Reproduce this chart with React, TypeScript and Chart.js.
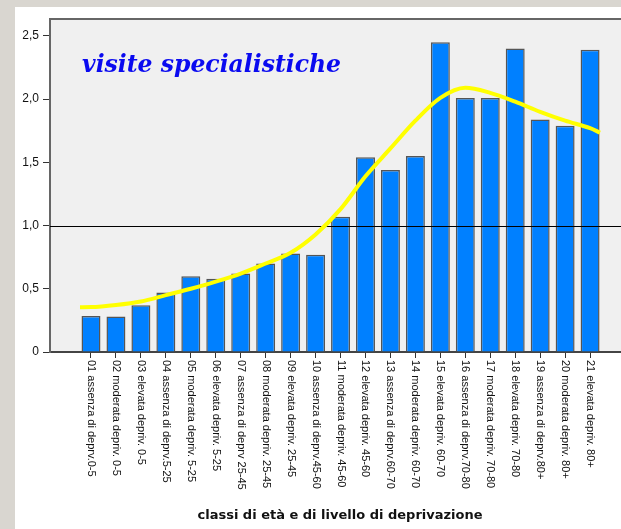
import React, { useEffect, useRef } from 'react';
import { Chart, registerables } from 'chart.js';

Chart.register(...registerables);

const categories = [
  '01 assenza di deprv.0-5',
  '02 moderata depriv. 0-5',
  '03 elevata depriv. 0-5',
  '04 assenza di deprv.5-25',
  '05 moderata depriv. 5-25',
  '06 elevata depriv. 5-25',
  '07 assenza di deprv 25-45',
  '08 moderata depriv. 25-45',
  '09 elevata depriv. 25-45',
  '10 assenza di deprv.45-60',
  '11 moderata depriv. 45-60',
  '12 elevata depriv. 45-60',
  '13 assenza di deprv.60-70',
  '14 moderata depriv. 60-70',
  '15 elevata depriv. 60-70',
  '16 assenza di deprv.70-80',
  '17 moderata depriv. 70-80',
  '18 elevata depriv. 70-80',
  '19 assenza di deprv.80+',
  '20 moderata depriv. 80+',
  '21 elevata depriv. 80+',
];

const barValues = [
  0.285, 0.28, 0.37, 0.47, 0.6, 0.58, 0.62, 0.7, 0.78, 0.77, 1.07,
  1.54, 1.44, 1.55, 2.45, 2.01, 2.01, 2.4, 1.84, 1.79, 2.39,
];

// fitted trend curve (position in category units, value)
const curveX = [0.56, 1, 2, 3, 4, 5, 6, 7, 8, 9, 10, 11, 12, 13, 14, 15, 16, 17, 18, 19, 20, 21, 21.4];
const curveY = [
  0.354, 0.355, 0.372, 0.4, 0.45, 0.5, 0.556, 0.62, 0.7, 0.785, 0.93, 1.13,
  1.39, 1.61, 1.83, 2.01, 2.09, 2.05, 1.98, 1.9, 1.83, 1.77, 1.735,
];

const yTickValues = [0, 0.5, 1, 1.5, 2, 2.5];
const yTickLabels = ['0', '0,5', '1,0', '1,5', '2,0', '2,5'];
const yMax = 2.634;
const xMin = -0.643;
const xMax = 22.6;
const referenceValue = 1;

const chartTitle = 'visite specialistiche';
const xAxisTitle = 'classi di età e di livello di deprivazione';

const decorPlugin = {
  id: 'decor',
  beforeDraw(chart: any) {
    const { ctx, chartArea } = chart;
    ctx.save();
    ctx.fillStyle = '#f0f0f0';
    ctx.fillRect(chartArea.left, chartArea.top, chartArea.right - chartArea.left, chartArea.bottom - chartArea.top);
    ctx.restore();
  },
  afterDatasetDraw(chart: any, args: any) {
    if (args.index !== 0) return;
    const { ctx, chartArea, scales } = chart;
    const y = Math.round(scales.y.getPixelForValue(referenceValue)) + 0.5;
    ctx.save();
    ctx.strokeStyle = '#000000';
    ctx.lineWidth = 1;
    ctx.beginPath();
    ctx.moveTo(chartArea.left, y);
    ctx.lineTo(chartArea.right, y);
    ctx.stroke();
    ctx.restore();
  },
  afterDraw(chart: any) {
    const { ctx, chartArea, scales } = chart;
    ctx.save();
    // top border
    ctx.strokeStyle = '#666666';
    ctx.lineWidth = 2;
    ctx.beginPath();
    ctx.moveTo(chartArea.left - 1, chartArea.top);
    ctx.lineTo(chartArea.right, chartArea.top);
    ctx.stroke();

    // chart title inside plot
    ctx.fillStyle = '#0a0af0';
    ctx.font = "italic bold 23.5px 'DejaVu Serif'";
    ctx.textAlign = 'left';
    ctx.textBaseline = 'alphabetic';
    ctx.fillText(chartTitle, chartArea.left + 32, chartArea.top + 53);

    // rotated category labels
    const xs = scales.x;
    ctx.fillStyle = '#111111';
    ctx.font = "11px 'Liberation Sans'";
    ctx.textAlign = 'left';
    ctx.textBaseline = 'middle';
    categories.forEach((label, i) => {
      const px = xs.getPixelForValue(i + 1);
      ctx.save();
      ctx.translate(px, xs.top + 8);
      ctx.rotate(Math.PI / 2);
      ctx.fillText(label, 0, 0);
      ctx.restore();
    });
    ctx.restore();
  },
};

export default function App() {
  const canvasRef = useRef<HTMLCanvasElement | null>(null);

  useEffect(() => {
    const canvas = canvasRef.current;
    if (!canvas) return;
    const chart = new Chart(canvas, {
      type: 'bar',
      data: {
        datasets: [
          {
            type: 'bar',
            label: 'visite',
            data: barValues.map((v, i) => ({ x: i + 1, y: v })),
            backgroundColor: '#0080ff',
            borderColor: '#555555',
            borderWidth: 1.5,
            barPercentage: 0.76,
            categoryPercentage: 1,
            order: 1,
          } as any,
          {
            type: 'line',
            label: 'trend',
            data: curveX.map((x, i) => ({ x, y: curveY[i] })),
            borderColor: '#ffff00',
            borderWidth: 4,
            pointRadius: 0,
            fill: false,
            cubicInterpolationMode: 'monotone',
            order: 0,
          } as any,
        ],
      },
      options: {
        animation: false,
        responsive: false,
        devicePixelRatio: 1,
        layout: { padding: { top: 12, right: 0, left: 0, bottom: 0 } },
        plugins: {
          legend: { display: false },
          tooltip: { enabled: false },
          title: { display: false },
        },
        scales: {
          x: {
            type: 'linear',
            min: xMin,
            max: xMax,
            offset: false,
            afterBuildTicks: (scale: any) => {
              scale.ticks = categories.map((_, i) => ({ value: i + 1 }));
            },
            afterFit: (scale: any) => {
              scale.height = 177;
            },
            ticks: { display: false },
            grid: {
              offset: false,
              drawOnChartArea: false,
              drawTicks: true,
              tickLength: 6,
              tickColor: '#333333',
              tickWidth: 1,
            },
            border: { display: true, color: '#444444', width: 2 },
            title: {
              display: true,
              text: xAxisTitle,
              color: '#111111',
              font: { family: "'DejaVu Sans'", size: 13, weight: 'bold' },
              padding: { top: 0, bottom: 6 },
            },
          },
          y: {
            type: 'linear',
            min: 0,
            max: yMax,
            afterBuildTicks: (scale: any) => {
              scale.ticks = yTickValues.map((v) => ({ value: v }));
            },
            afterFit: (scale: any) => {
              scale.width = 35;
            },
            ticks: {
              padding: 4,
              color: '#111111',
              font: { family: "'Liberation Sans'", size: 12 },
              callback: (v: any) => {
                const idx = yTickValues.indexOf(Number(v));
                return idx >= 0 ? yTickLabels[idx] : '';
              },
            },
            grid: {
              drawOnChartArea: false,
              drawTicks: true,
              tickLength: 7,
              tickColor: '#333333',
              tickWidth: 1,
            },
            border: { display: true, color: '#666666', width: 2 },
          },
        },
      } as any,
      plugins: [decorPlugin],
    });
    return () => chart.destroy();
  }, []);

  return (
    <div
      style={{
        position: 'fixed',
        left: 0,
        top: 0,
        width: '100vw',
        height: '100vh',
        overflow: 'hidden',
        background: '#d9d6d0',
      }}
    >
      <div
        style={{
          position: 'absolute',
          left: 15,
          top: 7,
          width: 615,
          height: 522,
          background: '#ffffff',
        }}
      >
        <canvas ref={canvasRef} width={615} height={522} style={{ display: 'block', width: 615, height: 522 }} />
      </div>
    </div>
  );
}
